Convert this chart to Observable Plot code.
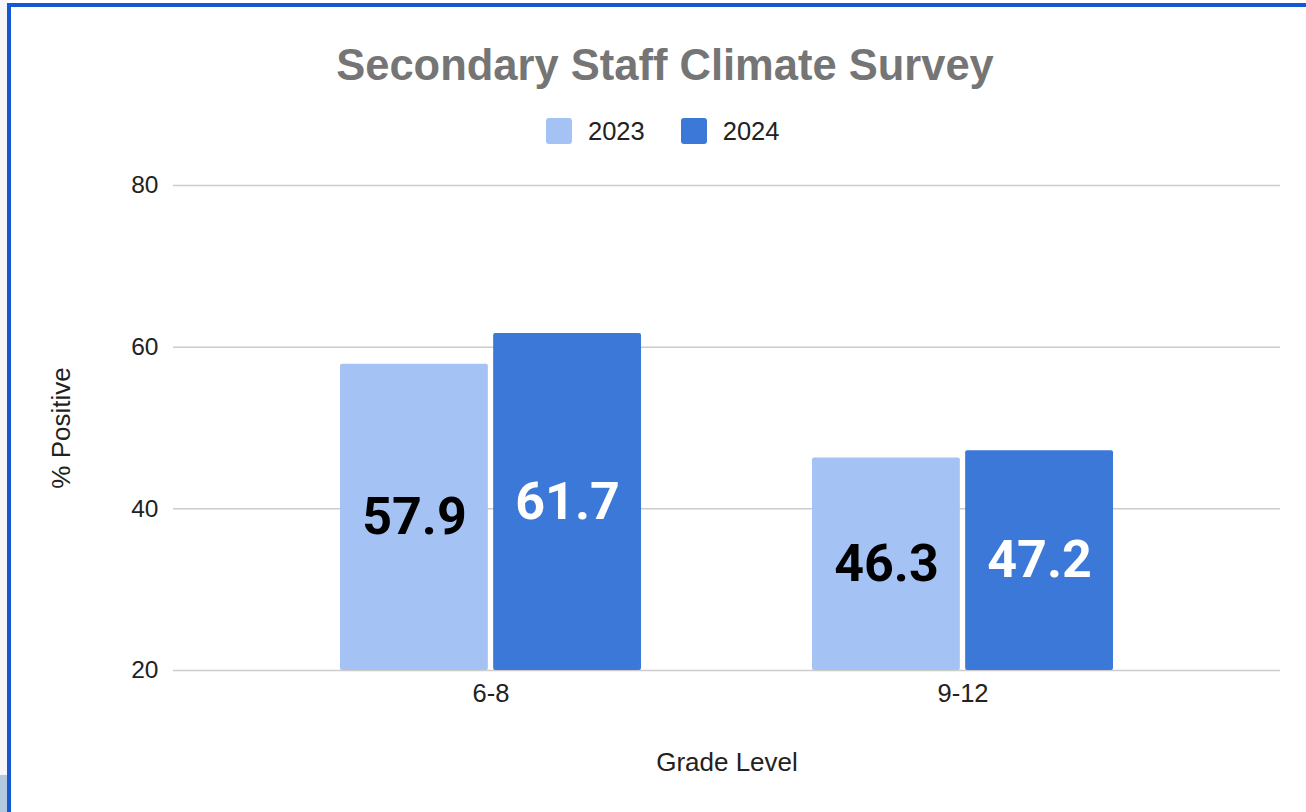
<!DOCTYPE html>
<html>
<head>
<meta charset="utf-8">
<script src="https://cdn.jsdelivr.net/npm/d3@7"></script>
<script src="https://cdn.jsdelivr.net/npm/@observablehq/plot@0.6"></script>
<style>
  html, body { margin: 0; padding: 0; background: #ffffff; width: 1306px; height: 812px; overflow: hidden; position: relative; }
  #side { position: absolute; left: 0; top: 0; width: 7px; height: 812px; background: #f7f7f7; }
  #side2 { position: absolute; left: 0; top: 775px; width: 7px; height: 37px; background: #b3c9df; }
  #frame { position: absolute; left: 7px; top: 3px; width: 1299px; height: 809px; border-top: 4px solid #1558d6; border-left: 4px solid #1558d6; box-sizing: border-box; background: #ffffff; }
  #title { position: absolute; left: 265px; width: 800px; top: 44px; text-align: center; font: bold 43.5px/42px "Liberation Sans", Arial, sans-serif; color: #757575; white-space: nowrap; }
  #legend { position: absolute; left: 546px; top: 118px; display: flex; align-items: center; height: 26px; font: 25.5px/26px "Liberation Sans", Arial, sans-serif; color: #222222; }
  #legend .sw { width: 26px; height: 26px; border-radius: 3px; margin-right: 16px; }
  #legend .item { display: flex; align-items: center; margin-right: 36px; }
  #chart { position: absolute; left: 0; top: 160px; }
</style>
</head>
<body>
<div id="side"></div>
<div id="side2"></div>
<div id="frame"></div>
<div id="title">Secondary Staff Climate Survey</div>
<div id="legend"></div>
<div id="chart"></div>
<script>
const grades = ["6-8", "9-12"];
const years = ["2023", "2024"];
const values2023 = [57.9, 46.3];
const values2024 = [61.7, 47.2];
const yTicks = [20, 40, 60, 80];
const seriesColors = ["#a4c2f4", "#3c78d8"];
const labelColors = ["#000000", "#ffffff"];
const yMin = 20, yMax = 80;

const seriesValues = [values2023, values2024];

// layout (styles)
const W = 1306, H = 640, mL = 173, mR = 26, mT = 25, mB = 130;
const padInner = 0.362, padOuter = 0.353, barGap = 5;
const band = d3.scaleBand(grades, [mL, W - mR]).paddingInner(padInner).paddingOuter(padOuter);
const half = (band.bandwidth() + barGap) / 2;   // inset that splits each group into two bars

// legend
const legend = document.getElementById("legend");
years.forEach((yr, k) => {
  const item = document.createElement("div");
  item.className = "item";
  if (k === years.length - 1) item.style.marginRight = "0";
  const sw = document.createElement("div");
  sw.className = "sw";
  sw.style.background = seriesColors[k];
  const t = document.createElement("span");
  t.textContent = yr;
  item.appendChild(sw);
  item.appendChild(t);
  legend.appendChild(item);
});

const seriesData = years.map((yr, k) => grades.map((g, i) => ({grade: g, year: yr, value: seriesValues[k][i]})));

const chart = Plot.plot({
  width: W,
  height: H,
  marginTop: mT,
  marginBottom: mB,
  marginLeft: mL,
  marginRight: mR,
  style: {fontFamily: "'Liberation Sans', Arial, sans-serif", fontSize: "25px", color: "#222222", background: "transparent", overflow: "visible"},
  x: {domain: grades, paddingInner: padInner, paddingOuter: padOuter, label: "Grade Level"},
  y: {domain: [yMin, yMax], label: "% Positive"},
  color: {domain: years, range: seriesColors},
  marks: [
    Plot.gridY(yTicks, {stroke: "#cccccc", strokeOpacity: 1, strokeWidth: 1.5}),
    ...seriesData.map((rows, k) => Plot.barY(rows, {
      x: "grade", y1: yMin, y2: "value", fill: "year", rx: 2,
      insetLeft: k === 0 ? 0 : half,
      insetRight: k === 0 ? half : 0
    })),
    ...seriesData.map((rows, k) => Plot.text(rows, {
      x: "grade",
      y: d => (yMin + d.value) / 2,
      text: d => d.value.toFixed(1),
      dx: (k === 0 ? -1 : 1) * half / 2,
      fill: labelColors[k],
      fontFamily: "Roboto, 'Liberation Sans', sans-serif",
      fontWeight: "bold",
      fontSize: 52
    })),
    Plot.axisY(yTicks, {tickSize: 0, tickPadding: 15, fontSize: 24.5, label: null}),
    Plot.axisY({ticks: [], tickSize: 0, label: "% Positive", labelAnchor: "center", labelOffset: 122, labelArrow: false, fontSize: 26, dy: 12}),
    Plot.axisX({anchor: "bottom", tickSize: 0, tickPadding: 13, fontSize: 25.5, label: null}),
    Plot.axisX({anchor: "bottom", ticks: [], tickSize: 0, label: "Grade Level", labelAnchor: "center", labelOffset: 100, labelArrow: false, fontSize: 26})
  ]
});
document.getElementById("chart").appendChild(chart);
</script>
</body>
</html>
